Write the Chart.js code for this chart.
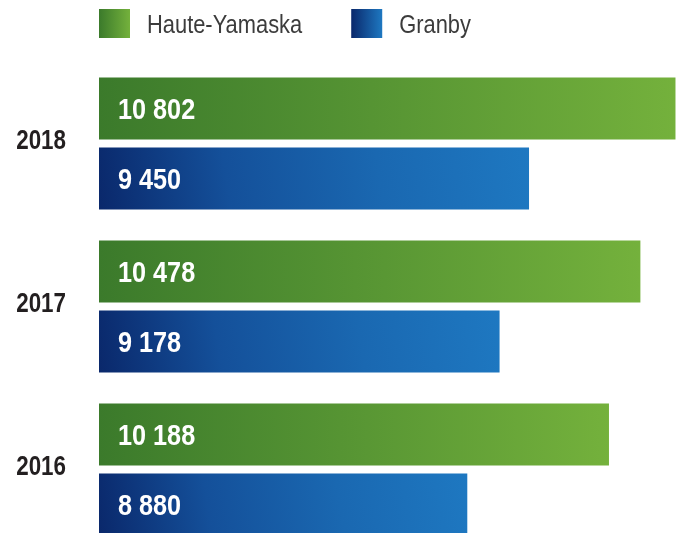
<!DOCTYPE html>
<html>
<head>
<meta charset="utf-8">
<script src="https://cdn.jsdelivr.net/npm/chart.js@4/dist/chart.umd.min.js"></script>
<style>
  html, body { margin: 0; padding: 0; background: #fff; overflow: hidden; }
  #wrap { width: 677px; height: 533px; overflow: hidden; }
</style>
</head>
<body>
<div id="wrap"><canvas id="c" width="677" height="551"></canvas></div>
<script>
// データ
const years = ['2018', '2017', '2016'];
const hauteYamaska = [10802, 10478, 10188];
const granby = [9450, 9178, 8880];
const seriesNames = ['Haute-Yamaska', 'Granby'];

const FONT = '"Liberation Sans", Arial, sans-serif';

// 色
const greenStops = ['#3b7a2b', '#74b13c'];
const blueStops = ['#0a286b', '#14509a', '#1a68b1', '#1e78c1'];

function fmt(v) {
  return String(v).replace(/\B(?=(\d{3})+(?!\d))/g, ' ');
}

// 横方向に縮めて書く（コンデンス書体の代わり）
function drawNarrow(ctx, text, x, y, sx, align) {
  ctx.save();
  ctx.translate(x, y);
  ctx.scale(sx, 1);
  ctx.textAlign = align;
  ctx.textBaseline = 'alphabetic';
  ctx.fillText(text, 0, 0);
  ctx.restore();
}

// バーのグラデーションと値ラベル
const barPlugin = {
  id: 'barDecor',
  beforeDatasetsDraw(chart) {
    const ctx = chart.ctx;
    const left = chart.chartArea.left;
    chart.data.datasets.forEach((ds, di) => {
      chart.getDatasetMeta(di).data.forEach(el => {
        const p = el.getProps(['x', 'y', 'height'], true);
        const top = p.y - p.height / 2, bottom = p.y + p.height / 2;
        let g;
        if (di === 0) {
          g = ctx.createLinearGradient(left, 0, p.x, 0);
          g.addColorStop(0, greenStops[0]);
          g.addColorStop(1, greenStops[1]);
        } else {
          g = ctx.createLinearGradient(left, bottom, p.x, top);
          g.addColorStop(0, blueStops[0]);
          g.addColorStop(0.3, blueStops[1]);
          g.addColorStop(0.65, blueStops[2]);
          g.addColorStop(1, blueStops[3]);
        }
        el.options.backgroundColor = g;
      });
    });
  },
  afterDatasetsDraw(chart) {
    const ctx = chart.ctx;
    const left = chart.chartArea.left;
    ctx.save();
    ctx.fillStyle = '#ffffff';
    ctx.font = 'bold 29px ' + FONT;
    chart.data.datasets.forEach((ds, di) => {
      chart.getDatasetMeta(di).data.forEach((el, i) => {
        const p = el.getProps(['y'], true);
        drawNarrow(ctx, fmt(ds.data[i]), left + 19, p.y + 10.5, 0.87, 'left');
      });
    });
    ctx.restore();
  }
};

// 年ラベル（Y軸）
const yearPlugin = {
  id: 'yearLabels',
  afterDraw(chart) {
    const ctx = chart.ctx;
    const yScale = chart.scales.y;
    ctx.save();
    ctx.fillStyle = '#231f20';
    ctx.font = 'bold 28px ' + FONT;
    years.forEach((yr, i) => {
      drawNarrow(ctx, yr, chart.chartArea.left - 33, yScale.getPixelForValue(i) + 5, 0.8, 'right');
    });
    ctx.restore();
  }
};

// 凡例
const legendPlugin = {
  id: 'customLegend',
  afterDraw(chart) {
    const ctx = chart.ctx;
    const stops = [[greenStops[0], greenStops[1]], [blueStops[0], blueStops[3]]];
    let x = chart.chartArea.left;
    const y = 9, w = 31, h = 29, sx = 0.875;
    ctx.save();
    ctx.font = '25px ' + FONT;
    seriesNames.forEach((name, i) => {
      const g = ctx.createLinearGradient(x, 0, x + w, 0);
      g.addColorStop(0, stops[i][0]);
      g.addColorStop(1, stops[i][1]);
      ctx.fillStyle = g;
      ctx.fillRect(x, y, w, h);
      ctx.fillStyle = '#3c3c3c';
      const tx = x + w + 17;
      drawNarrow(ctx, name, tx, y + h / 2 + 9.5, sx, 'left');
      x = tx + ctx.measureText(name).width * sx + 49;
    });
    ctx.restore();
  }
};

new Chart(document.getElementById('c'), {
  type: 'bar',
  data: {
    labels: years,
    datasets: [
      { label: seriesNames[0], data: hauteYamaska, backgroundColor: () => greenStops[0] },
      { label: seriesNames[1], data: granby, backgroundColor: () => blueStops[0] }
    ]
  },
  options: {
    indexAxis: 'y',
    responsive: false,
    animation: false,
    devicePixelRatio: 1,
    datasets: {
      bar: { barPercentage: 0.886, categoryPercentage: 0.859 }
    },
    layout: { padding: { top: 62, right: 0, bottom: 0, left: 99 } },
    plugins: {
      legend: { display: false },
      tooltip: { enabled: false }
    },
    scales: {
      x: { display: false, min: 5480, max: 10816 },
      y: { display: false }
    }
  },
  plugins: [barPlugin, yearPlugin, legendPlugin]
});
</script>
</body>
</html>
